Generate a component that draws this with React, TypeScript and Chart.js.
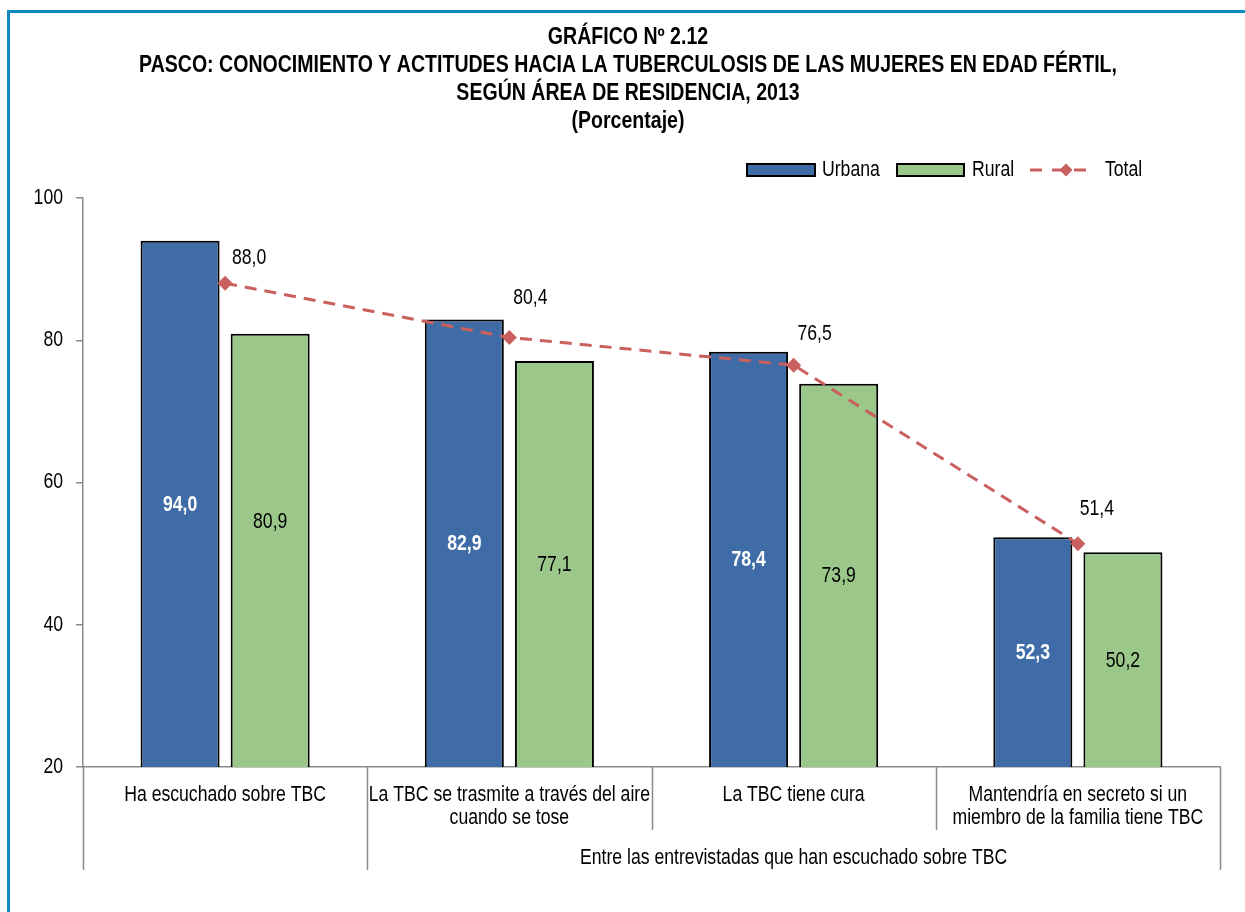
import React, { useEffect, useRef } from "react";
import { Chart, registerables } from "chart.js";

Chart.register(...registerables);

// ---------- data ----------
const categoryLines: string[][] = [
  ["Ha escuchado sobre TBC"],
  ["La TBC se trasmite a través del aire", "cuando se tose"],
  ["La TBC tiene cura"],
  ["Mantendría en secreto si un", "miembro de la familia tiene TBC"],
];
const categories = categoryLines.map((l) => l.join(" "));
const groupLabel = "Entre las entrevistadas que han escuchado sobre TBC";
const groupFirstIndex = 1;
const urbana = [94.0, 82.9, 78.4, 52.3];
const rural = [80.9, 77.1, 73.9, 50.2];
const total = [88.0, 80.4, 76.5, 51.4];
const seriesNames = ["Urbana", "Rural", "Total"];
const yMin = 20;
const yMax = 100;
const yStep = 20;
const titleLines = [
  "GRÁFICO Nº 2.12",
  "PASCO: CONOCIMIENTO Y ACTITUDES HACIA LA TUBERCULOSIS DE LAS MUJERES EN EDAD FÉRTIL,",
  "SEGÚN ÁREA DE RESIDENCIA, 2013",
  "(Porcentaje)",
];

// ---------- styles ----------
const FF = '"Liberation Sans", Arial, sans-serif';
const NARROW = 0.82;
const BLUE = "#3f6ca6";
const GREEN = "#9bc78a";
const RED = "#c9605e";
const AXIS = "#8a8a8a";
const FS = 21.5;
const TITLE_FS = 23;
const TITLE_NARROW = 0.85;

const fmt = (v: number) => v.toFixed(1).replace(".", ",");

// label nudges (layout only)
const ruralLabelNudge = [-29, 0, 0, 0];
const totalLabelOffsets = [
  [24, -25],
  [21, -39],
  [21, -31],
  [19, -35],
];

function diamond(ctx: CanvasRenderingContext2D, x: number, y: number, r: number) {
  ctx.beginPath();
  ctx.moveTo(x, y - r);
  ctx.lineTo(x + r, y);
  ctx.lineTo(x, y + r);
  ctx.lineTo(x - r, y);
  ctx.closePath();
  ctx.fill();
}

function text(
  ctx: CanvasRenderingContext2D,
  t: string,
  x: number,
  y: number,
  align: CanvasTextAlign,
  bold = false,
  color = "#000",
  size = FS,
  narrow = NARROW
) {
  ctx.save();
  ctx.translate(x, y);
  ctx.scale(narrow, 1);
  ctx.font = `${bold ? "bold " : ""}${size}px ${FF}`;
  ctx.fillStyle = color;
  ctx.textAlign = align;
  ctx.textBaseline = "middle";
  ctx.fillText(t, 0, 0);
  ctx.restore();
}

const overlayPlugin = {
  id: "overlay",
  afterDraw(chart: any) {
    const { ctx, chartArea, scales } = chart;
    const xs = scales.x;
    const ys = scales.y;
    ctx.save();

    // title
    titleLines.forEach((t, i) =>
      text(ctx, t, 628, 38 + i * 28, "center", true, "#000", TITLE_FS, TITLE_NARROW)
    );

    // y tick labels
    ys.ticks.forEach((tk: any) => {
      text(ctx, String(tk.value), 63, ys.getPixelForValue(tk.value), "right");
    });

    // legend
    const ly = 170;
    ctx.lineWidth = 2;
    ctx.strokeStyle = "#000";
    ctx.fillStyle = BLUE;
    ctx.fillRect(747, ly - 6, 68, 12);
    ctx.strokeRect(747, ly - 6, 68, 12);
    text(ctx, seriesNames[0], 822, ly, "left");
    ctx.fillStyle = GREEN;
    ctx.fillRect(897, ly - 6, 67, 12);
    ctx.strokeRect(897, ly - 6, 67, 12);
    text(ctx, seriesNames[1], 972, ly, "left");
    ctx.save();
    ctx.strokeStyle = RED;
    ctx.lineWidth = 3;
    ctx.setLineDash([12, 10]);
    ctx.beginPath();
    ctx.moveTo(1030, ly);
    ctx.lineTo(1088, ly);
    ctx.stroke();
    ctx.setLineDash([]);
    ctx.fillStyle = RED;
    diamond(ctx, 1066, ly, 6.5);
    ctx.restore();
    text(ctx, seriesNames[2], 1105, ly, "left");

    // bar labels
    const m0 = chart.getDatasetMeta(0);
    const m1 = chart.getDatasetMeta(1);
    const m2 = chart.getDatasetMeta(2);
    m0.data.forEach((el: any, i: number) => {
      text(ctx, fmt(urbana[i]), el.x, (el.y + chartArea.bottom) / 2 + 1, "center", true, "#fff");
    });
    m1.data.forEach((el: any, i: number) => {
      text(ctx, fmt(rural[i]), el.x, (el.y + chartArea.bottom) / 2 + 1 + ruralLabelNudge[i], "center");
    });
    m2.data.forEach((el: any, i: number) => {
      const [dx, dy] = totalLabelOffsets[i];
      text(ctx, fmt(total[i]), el.x + dx, el.y + dy, "center");
    });

    // x axis labels (multi-level)
    const n = categories.length;
    const step = (chartArea.right - chartArea.left) / n;
    const b = chartArea.bottom;
    categoryLines.forEach((lines, i) => {
      const cx = xs.getPixelForValue(i);
      lines.forEach((t, j) => text(ctx, t, cx, b + 28 + j * 23, "center"));
    });
    const gx = (chartArea.left + step * groupFirstIndex + chartArea.right) / 2;
    text(ctx, groupLabel, gx, b + 91, "center");

    ctx.strokeStyle = AXIS;
    ctx.lineWidth = 1.5;
    for (let k = 0; k <= n; k++) {
      const x = Math.round(chartArea.left + step * k) + 0.5;
      const long = k === 0 || k === groupFirstIndex || k === n;
      ctx.beginPath();
      ctx.moveTo(x, b);
      ctx.lineTo(x, b + (long ? 103 : 63));
      ctx.stroke();
    }
    ctx.restore();
  },
};

export default function App() {
  const ref = useRef<HTMLCanvasElement>(null);
  useEffect(() => {
    const chart = new Chart(ref.current as HTMLCanvasElement, {
      type: "bar",
      data: {
        labels: categories,
        datasets: [
          {
            type: "bar",
            label: seriesNames[0],
            data: urbana,
            backgroundColor: BLUE,
            borderColor: "#000",
            borderWidth: 2,
            borderSkipped: false,
            categoryPercentage: 0.634,
            barPercentage: 0.877,
            order: 1,
          },
          {
            type: "bar",
            label: seriesNames[1],
            data: rural,
            backgroundColor: GREEN,
            borderColor: "#000",
            borderWidth: 2,
            borderSkipped: false,
            categoryPercentage: 0.634,
            barPercentage: 0.877,
            order: 2,
          },
          {
            type: "line",
            label: seriesNames[2],
            data: total,
            borderColor: RED,
            backgroundColor: RED,
            borderWidth: 3,
            borderDash: [12, 8],
            pointStyle: "rectRot",
            pointRadius: 7.5,
            pointBorderWidth: 0,
            pointBackgroundColor: RED,
            fill: false,
            tension: 0,
            order: 0,
          } as any,
        ],
      },
      options: {
        animation: false,
        responsive: false,
        devicePixelRatio: 1,
        layout: { padding: { left: 0, right: 25, top: 198, bottom: 145 } },
        plugins: {
          legend: { display: false },
          title: { display: false },
          tooltip: { enabled: false },
        },
        scales: {
          x: {
            offset: true,
            ticks: { display: false },
            grid: { display: false, drawTicks: false },
            border: { display: true, color: AXIS, width: 1.5 },
            afterFit: (s: any) => {
              s.height = 0;
            },
          },
          y: {
            min: yMin,
            max: yMax,
            ticks: {
              stepSize: yStep,
              display: false,
            },
            grid: {
              drawOnChartArea: false,
              drawTicks: true,
              tickLength: 7,
              color: AXIS,
              lineWidth: 1.5,
            },
            border: { display: true, color: AXIS, width: 1.5 },
            afterFit: (s: any) => {
              s.width = 83;
            },
          },
        },
      },
      plugins: [overlayPlugin],
    });
    return () => chart.destroy();
  }, []);

  return (
    <div>
      <div
        style={{
          position: "fixed",
          left: 7,
          top: 10,
          width: 3000,
          height: 3000,
          border: "3px solid #0b8ac1",
          boxSizing: "border-box",
        }}
      />
      <canvas
        ref={ref}
        width={1245}
        height={912}
        style={{ position: "fixed", left: 0, top: 0, width: 1245, height: 912 }}
      />
    </div>
  );
}
